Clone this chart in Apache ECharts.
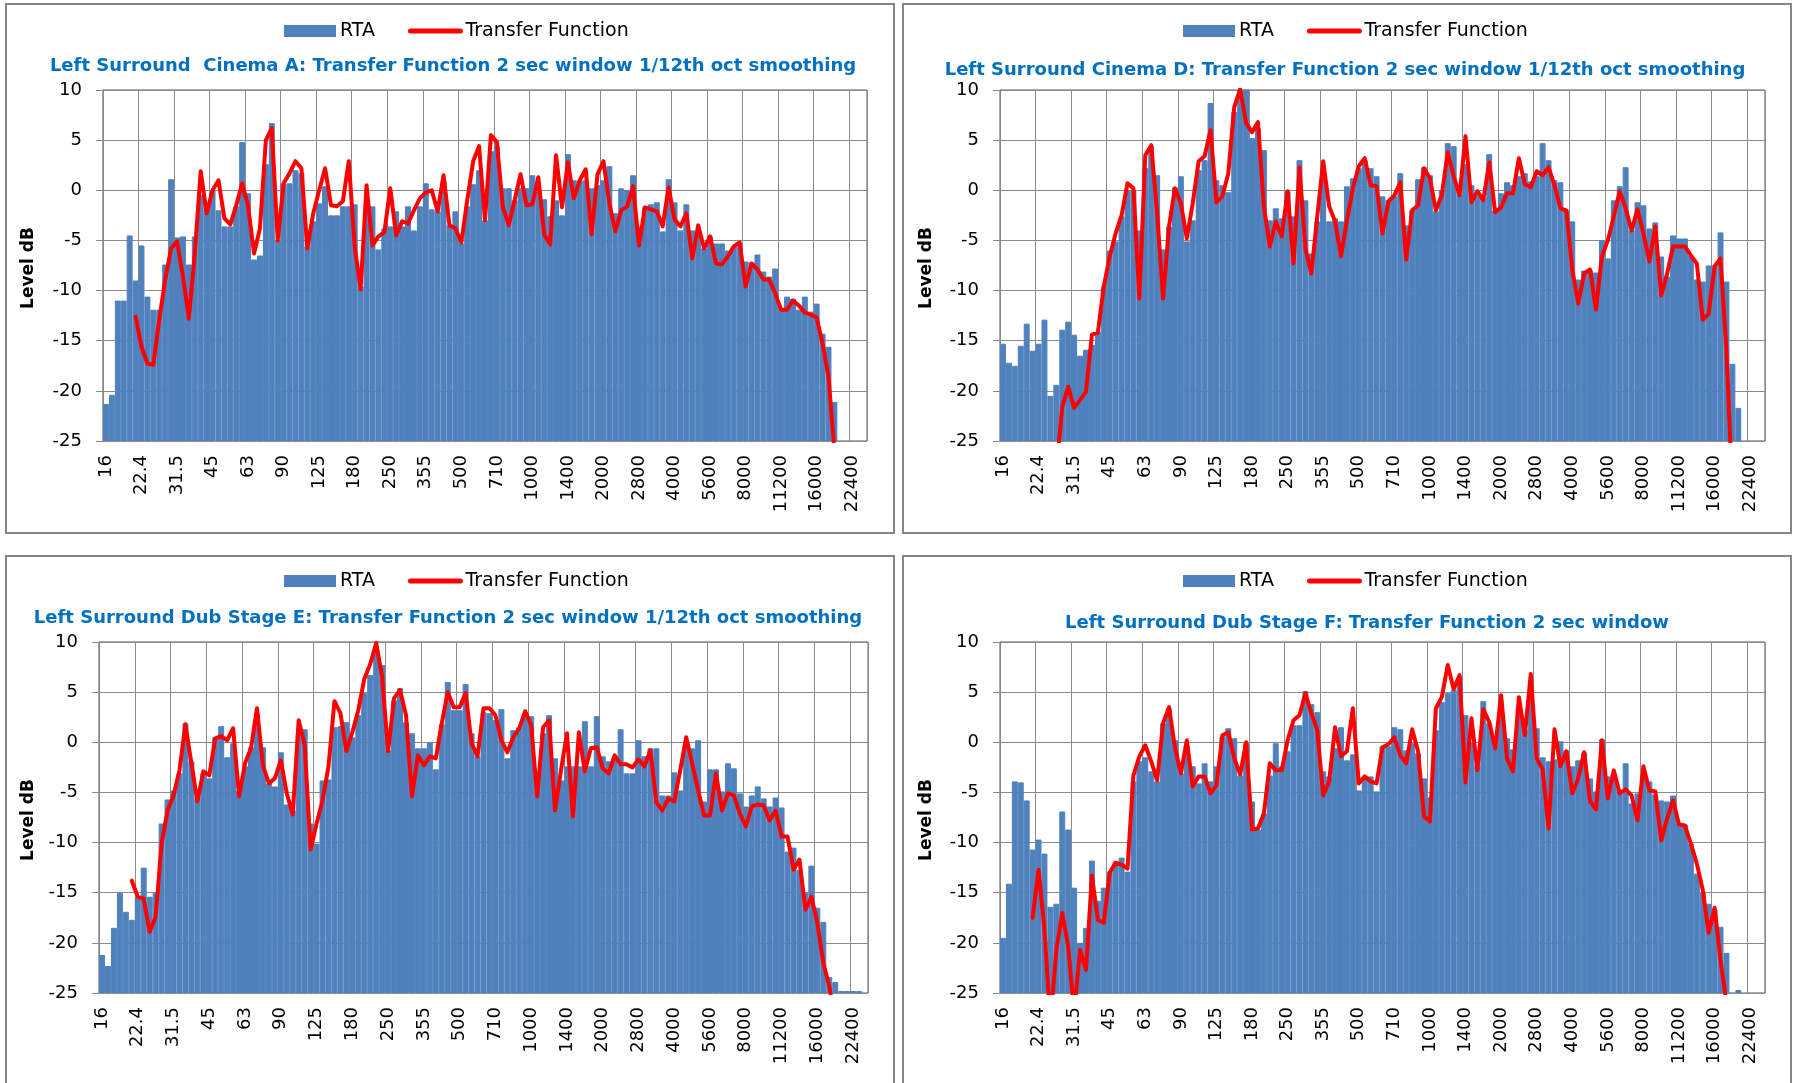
<!DOCTYPE html>
<html>
<head>
<meta charset="utf-8">
<title>Left Surround transfer functions</title>
<script src="https://cdn.jsdelivr.net/npm/echarts@6/dist/echarts.min.js"></script>
<style>
  html, body { margin: 0; padding: 0; background: #fff; }
  #chart { width: 1795px; height: 1083px; }
</style>
</head>
<body>
<div id="chart"></div>
<script>
// half-octave tick labels (every 6th 1/12-octave band)
const tickLabels = ['16', '22.4', '31.5', '45', '63', '90', '125', '180', '250', '355', '500',
  '710', '1000', '1400', '2000', '2800', '4000', '5600', '8000', '11200', '16000', '22400'];
const BAND_COUNT = 129;

// Cinema A
const rtaA = [
  -21.3, -20.4, -11.0, -11.0, -4.5, -9.0, -5.5, -10.6, -11.9, -11.9, -7.4, 1.1,
  -4.7, -4.6, -7.4, -4.6, -0.5, -2.0, 0.0, -2.0, -3.6, -3.6, -1.6, 4.8,
  -0.3, -6.9, -6.5, 2.6, 6.7, -5.0, 0.7, 0.7, 2.0, 1.7, -5.6, -3.1,
  -1.3, 0.4, -2.5, -2.5, -1.6, -1.6, -1.4, -9.6, -1.6, -1.6, -5.9, -3.8,
  -3.6, -2.1, -3.6, -1.6, -4.0, -1.6, 0.7, -1.9, -2.1, 1.0, -3.5, -2.1,
  -5.3, -1.6, 0.6, 2.0, -3.0, 3.9, 4.4, 0.2, 0.2, -1.0, 0.2, 0.2,
  1.5, 0.4, -0.9, -2.6, -1.0, -2.5, 3.6, 1.0, 1.0, 1.0, 0.2, 0.5,
  1.0, 2.4, -2.3, 0.2, 0.0, 1.5, -3.6, -1.7, -1.4, -1.2, -4.1, 1.1,
  -1.2, -4.0, -1.4, -4.0, -4.0, -5.8, -4.6, -5.3, -5.3, -6.0, -5.6, -5.3,
  -7.1, -7.2, -6.4, -8.1, -8.6, -7.8, -11.8, -10.6, -10.8, -11.9, -10.6, -12.1,
  -11.3, -14.3, -15.6, -21.1, null, null, null, null, null
];
const tfA = [
  null, null, null, null, null, -12.6, -15.6, -17.3, -17.4, -12.9, -8.9, -5.8,
  -5.1, -8.6, -12.8, -6.3, 1.9, -2.3, 0.0, 1.0, -2.8, -3.4, -1.5, 0.7,
  -1.6, -6.3, -3.8, 5.0, 6.2, -5.0, 0.7, 1.7, 2.9, 2.2, -5.8, -2.3,
  0.0, 2.2, -1.5, -1.6, -1.1, 2.9, -5.6, -9.9, 0.5, -5.5, -4.6, -4.2,
  0.2, -4.5, -3.1, -3.3, -2.0, -0.8, -0.2, 0.0, -2.1, 1.5, -3.5, -3.8,
  -5.2, -1.0, 2.9, 4.4, -3.0, 5.5, 4.8, -1.6, -3.5, -1.0, 1.6, -1.5,
  -1.4, 1.3, -4.4, -5.4, 3.5, -1.7, 2.8, -0.8, 1.0, 2.1, -4.4, 1.6,
  2.9, -1.3, -4.1, -2.0, -1.6, 0.4, -5.5, -1.7, -1.9, -2.1, -3.6, 0.3,
  -2.9, -3.6, -2.3, -6.8, -3.5, -5.8, -4.6, -7.3, -7.4, -6.6, -5.6, -5.2,
  -9.6, -7.3, -7.9, -8.9, -8.9, -10.3, -11.9, -11.9, -11.0, -11.5, -12.2, -12.4,
  -12.7, -15.3, -18.6, -26, null, null, null, null, null
];

// Cinema D
const rtaD = [
  -15.3, -17.2, -17.5, -15.5, -13.3, -16.0, -15.3, -12.9, -20.5, -19.4, -13.9, -13.1,
  -14.4, -16.5, -15.9, -15.4, -14.1, -9.6, -6.0, -5.1, -2.6, 0.0, 0.0, -4.0,
  2.2, 4.4, 1.5, -5.9, -3.6, 0.3, 1.4, -5.1, -3.0, 2.0, 3.0, 8.7,
  1.0, 0.5, -0.2, 7.8, 10.5, 10.5, 5.2, 6.2, 4.0, -3.0, -1.8, -2.8,
  -0.1, -2.6, 3.0, -1.0, -6.3, -3.1, 1.2, -3.1, -2.8, -3.1, 0.4, 1.2,
  2.2, 3.0, 2.2, 1.4, -0.6, -1.0, -0.6, 1.7, -3.5, -2.0, 1.1, 2.3,
  1.5, -2.1, 0.0, 4.7, 4.4, -0.4, 2.6, 0.5, -0.6, -0.8, 3.6, -2.0,
  -0.3, 0.8, 0.5, 1.4, 1.7, 0.9, 1.4, 4.7, 3.0, 1.0, 0.8, -2.0,
  -3.1, -8.9, -8.0, -8.0, -8.2, -5.0, -6.8, -1.0, 0.4, 2.3, -4.0, -1.2,
  -1.5, -3.8, -3.2, -6.6, -8.6, -4.5, -4.8, -4.8, -6.5, -8.9, -9.1, -7.5,
  -7.5, -4.2, -9.1, -17.3, -21.7, null, null, null, null
];
const tfD = [
  null, null, null, null, null, null, null, null, null, -28, -21.6, -19.6,
  -21.7, -20.9, -20.1, -14.4, -14.2, -9.6, -6.6, -4.3, -2.5, 0.7, 0.2, -10.8,
  3.5, 4.5, -2.3, -10.8, -3.6, 0.2, -1.3, -4.8, -1.3, 2.9, 3.4, 6.0,
  -1.2, -0.6, 1.7, 8.3, 10.1, 6.7, 5.8, 6.8, -1.6, -5.6, -3.1, -4.6,
  -0.1, -7.3, 2.3, -5.8, -8.3, -2.6, 2.9, -1.6, -3.1, -6.6, -3.0, 0.2,
  2.4, 3.2, 0.5, 0.4, -4.3, -1.1, -0.5, 0.8, -6.9, -2.0, -1.5, 2.2,
  1.2, -2.0, -0.5, 3.8, 1.4, -0.5, 5.4, -1.2, -0.1, -1.0, 2.8, -2.2,
  -1.7, -0.3, -0.3, 3.2, 0.6, 0.3, 1.9, 1.5, 2.3, 0.5, -1.8, -2.0,
  -7.9, -11.3, -8.3, -7.9, -11.9, -6.6, -5.0, -2.6, -0.1, -1.8, -4.0, -1.9,
  -4.3, -7.1, -3.6, -10.5, -8.3, -5.6, -5.6, -5.6, -6.5, -7.3, -12.9, -12.3,
  -7.6, -6.8, -16, -30, null, null, null, null, null
];

// Dub Stage E
const rtaE = [
  -21.2, -22.3, -18.5, -15.0, -16.9, -17.7, -15.5, -12.5, -15.4, -15.0, -8.1, -5.7,
  -4.8, -3.1, 1.9, -1.9, -5.6, -3.1, -3.6, 0.5, 1.6, -1.5, -0.1, -4.8,
  -2.4, -0.5, 2.9, -0.5, -4.1, -4.4, -1.0, -6.2, -6.8, 0.9, 1.3, -8.1,
  -10.1, -3.8, -3.7, 1.5, 1.6, 2.0, 0.5, 2.7, 4.9, 6.7, 9.2, 7.7,
  -0.8, 4.2, 5.4, 2.0, 0.9, -0.6, -0.6, 0.0, -2.7, 1.8, 6.0, 3.2,
  3.2, 5.8, 0.9, -1.4, 3.0, 2.9, 2.2, 3.3, -1.6, 1.2, 1.5, 2.6,
  2.6, -2.9, 0.9, 2.7, -1.6, -3.8, -2.4, -2.4, -2.4, 2.1, -2.4, 2.6,
  -1.4, -1.9, -1.4, 1.3, -3.1, -3.1, 0.2, -1.4, -0.6, -0.6, -5.3, -5.3,
  -3.0, -4.8, -0.5, -0.6, 0.2, -5.9, -2.7, -2.7, -4.9, -2.1, -2.6, -5.1,
  -6.4, -5.3, -4.4, -5.6, -6.4, -5.5, -6.5, -10.9, -10.5, -12.7, -15.0, -12.3,
  -16.5, -17.9, -23.4, -23.9, -24.8, -24.8, -24.8, -24.8, null
];
const tfE = [
  null, null, null, null, null, -13.8, -15.4, -15.6, -18.9, -17.4, -10.1, -6.8,
  -5.3, -2.8, 1.8, -2.1, -5.9, -2.9, -3.3, 0.4, 0.6, 0.2, 1.4, -5.4,
  -2.1, -0.6, 3.4, -2.3, -4.1, -3.6, -1.8, -5.1, -7.2, 2.2, -0.3, -10.7,
  -8.1, -5.8, -2.4, 4.1, 2.9, -0.9, 1.0, 3.2, 6.3, 7.8, 9.9, 6.5,
  -0.9, 4.4, 5.2, 2.7, -5.4, -1.3, -2.3, -1.4, -1.6, 1.9, 5.0, 3.5,
  3.5, 4.9, -0.1, -1.4, 3.4, 3.4, 2.7, 0.2, -1.0, 0.5, 1.4, 3.1,
  1.7, -5.4, 1.5, 2.2, -6.8, -2.8, 0.9, -7.4, 1.0, -2.9, -0.6, -0.5,
  -2.6, -3.1, -1.3, -2.2, -2.2, -2.5, -1.7, -2.4, -0.8, -6.0, -6.8, -5.6,
  -5.9, -2.8, 0.5, -2.1, -4.8, -7.3, -7.3, -3.1, -6.8, -5.1, -5.3, -7.1,
  -8.4, -6.4, -6.2, -6.3, -7.8, -6.8, -9.4, -9.4, -12.7, -11.7, -16.7, -15.4,
  -18.0, -22.0, -24.3, -28, null, null, null, null, null
];

// Dub Stage F
const rtaF = [
  -19.5, -14.1, -3.9, -4.0, -5.8, -10.7, -9.7, -11.1, -16.4, -16.1, -6.9, -8.7,
  -14.5, -20.0, -18.5, -11.8, -15.8, -14.5, -12.9, -11.9, -11.5, -12.9, -3.9, -1.9,
  -1.5, -2.9, -3.9, 1.9, 3.4, 0.2, -3.1, -0.3, -2.4, -4.1, -2.1, -3.9,
  -2.4, 0.6, 1.4, 0.4, -3.3, -0.1, -5.9, -8.7, -7.1, -3.3, -0.1, -2.4,
  -0.9, 1.7, 1.7, 5.1, 3.8, 3.0, -2.9, -3.4, -0.6, 1.5, -1.8, -1.2,
  -4.8, -3.4, -3.4, -4.9, -0.4, -0.4, 1.5, 1.3, -0.8, -0.1, -1.1, -3.6,
  -5.5, 1.2, 4.0, 4.9, 5.2, 6.5, 2.7, 0.0, -2.3, 4.1, 1.9, 0.5,
  3.0, 0.4, -0.7, 2.7, 1.2, 4.5, 1.4, -1.5, -1.9, -1.7, 0.1, -0.8,
  -2.4, -1.8, -1.0, -3.6, -4.9, 0.3, -3.4, -3.1, -4.9, -2.1, -6.1, -5.1,
  -3.5, -3.9, -5.2, -5.8, -5.9, -5.3, -8.1, -8.2, -10.1, -13.1, -15.0, -16.1,
  -16.7, -18.4, -21.0, null, -24.7, null, null, null, null
];
const tfF = [
  null, null, null, null, null, -17.5, -12.7, -18.7, -28, -20.7, -17.0, -20.4,
  -27, -20.7, -22.7, -13.3, -17.7, -18.0, -13.0, -12.0, -12.2, -12.6, -3.3, -1.4,
  -0.3, -1.9, -3.8, 1.9, 3.5, -0.5, -3.1, 0.2, -4.4, -3.4, -3.4, -5.1,
  -4.3, 0.7, 1.0, -1.6, -3.2, 0.0, -8.7, -8.6, -7.1, -2.1, -2.8, -2.8,
  0.2, 2.2, 2.7, 4.9, 2.9, 1.2, -5.3, -3.9, 1.5, -1.4, -0.9, 3.4,
  -4.1, -3.4, -3.9, -4.1, -0.5, -0.2, 0.5, -1.3, -2.1, 1.3, -0.9, -7.4,
  -7.9, 3.4, 4.5, 7.7, 5.3, 6.7, -4.0, 2.4, -2.8, 3.3, 2.0, -0.6,
  4.7, -1.6, -2.9, 4.5, 0.7, 6.8, -1.6, -2.7, -8.6, 1.3, -2.4, -0.9,
  -5.1, -3.6, -1.0, -5.9, -6.7, 0.2, -5.6, -2.8, -5.1, -4.7, -5.3, -7.8,
  -2.4, -4.8, -4.9, -9.8, -7.6, -5.8, -8.2, -8.3, -10.1, -12.1, -14.7, -19.0,
  -16.5, -21.7, -26, null, null, null, null, null, null
];

const Y_MIN = -25;
const Y_MAX = 10;
const FONT = "'DejaVu Sans', sans-serif";
const BAR_COLOR = '#4f81bd';

// every 6th band carries a tick label, the rest are unlabelled bands
const categories = [];
for (let i = 0; i < BAND_COUNT; i++) {
  categories.push(i % 6 === 0 ? tickLabels[i / 6] : 'band' + i);
}

// panel layout (page pixels)
const panels = [
  { title: 'Left Surround  Cinema A: Transfer Function 2 sec window 1/12th oct smoothing',
    rta: rtaA, tf: tfA, box: [6, 4, 888, 529], grid: [103, 90, 764, 351],
    legend: [284, 21], titleAt: [453, 66], nameAt: [29, 268] },
  { title: 'Left Surround Cinema D: Transfer Function 2 sec window 1/12th oct smoothing',
    rta: rtaD, tf: tfD, box: [903, 4, 888, 529], grid: [1000, 90, 765, 351],
    legend: [1183, 21], titleAt: [1345, 70], nameAt: [927, 268] },
  { title: 'Left Surround Dub Stage E: Transfer Function 2 sec window 1/12th oct smoothing',
    rta: rtaE, tf: tfE, box: [6, 556, 888, 545], grid: [99, 642, 769, 351],
    legend: [284, 571], titleAt: [448, 618], nameAt: [29, 820] },
  { title: 'Left Surround Dub Stage F: Transfer Function 2 sec window',
    rta: rtaF, tf: tfF, box: [903, 556, 888, 545], grid: [1000, 642, 765, 351],
    legend: [1183, 571], titleAt: [1367, 623], nameAt: [927, 820] }
];

const grids = [], xAxes = [], yAxes = [], series = [], legends = [], graphics = [];

panels.forEach((p, k) => {
  grids.push({
    left: p.grid[0], top: p.grid[1], width: p.grid[2], height: p.grid[3],
    show: true, borderColor: '#555', borderWidth: 1, backgroundColor: '#fff'
  });

  xAxes.push({
    type: 'category', gridIndex: k, data: categories, boundaryGap: true,
    axisLine: { lineStyle: { color: '#868686' } },
    axisTick: { interval: 5, length: 6, lineStyle: { color: '#868686' } },
    axisLabel: { interval: 5, rotate: 90, margin: 14, color: '#000', fontFamily: FONT, fontSize: 18 },
    splitLine: { show: true, interval: 5, lineStyle: { color: '#8c8c8c', width: 1 } }
  });

  // visible dB axis, used by the transfer function line
  yAxes.push({
    type: 'value', gridIndex: k, min: Y_MIN, max: Y_MAX, interval: 5,
    axisLine: { show: true, lineStyle: { color: '#868686' } },
    axisTick: { show: true, length: 7, lineStyle: { color: '#868686' } },
    axisLabel: { margin: 21, color: '#000', fontFamily: FONT, fontSize: 18, showMinLabel: true, showMaxLabel: true },
    splitLine: { lineStyle: { color: '#8c8c8c', width: 1 } }
  });
  // hidden axis measured from the bottom of the dB range, so bars grow up from -25
  yAxes.push({
    type: 'value', gridIndex: k, min: 0, max: Y_MAX - Y_MIN, show: false
  });

  series.push({
    type: 'bar', name: 'RTA', xAxisIndex: k, yAxisIndex: 2 * k + 1,
    data: p.rta.map(v => (v == null ? null : v - Y_MIN)),
    barCategoryGap: '0%', barGap: '0%',
    // thin border in the fill colour closes the anti-aliasing seams between bars
    itemStyle: { color: BAR_COLOR, borderColor: BAR_COLOR, borderWidth: 1 },
    silent: true
  });
  series.push({
    type: 'line', name: 'Transfer Function', xAxisIndex: k, yAxisIndex: 2 * k,
    data: p.tf, symbol: 'none', connectNulls: false, clip: true, z: 5,
    lineStyle: { color: '#ff0000', width: 4, join: 'round', cap: 'round' },
    itemStyle: { color: '#ff0000' }, silent: true
  });

  legends.push({
    left: p.legend[0], top: p.legend[1], padding: 0,
    itemWidth: 50, itemHeight: 10, itemGap: 33,
    textStyle: { fontFamily: FONT, fontSize: 19, color: '#000', lineHeight: 20 },
    data: [
      { name: 'RTA', icon: 'rect' },
      // plain thick line in the legend, no marker in its middle
      { name: 'Transfer Function', itemStyle: { opacity: 0 },
        lineStyle: { color: '#ff0000', width: 5, cap: 'round' } }
    ],
    selectedMode: false
  });

  // panel frame
  graphics.push({
    type: 'rect', z: -10, silent: true,
    shape: { x: p.box[0], y: p.box[1], width: p.box[2], height: p.box[3] },
    style: { fill: '#fff', stroke: '#868686', lineWidth: 2 }
  });
  graphics.push({
    type: 'text', x: p.titleAt[0], y: p.titleAt[1], silent: true,
    style: {
      text: p.title, font: 'bold 18px ' + FONT, fill: '#0070c0',
      textAlign: 'center', textVerticalAlign: 'middle'
    }
  });
  graphics.push({
    type: 'text', x: p.nameAt[0], y: p.nameAt[1], rotation: Math.PI / 2, silent: true,
    style: {
      text: 'Level dB', font: 'bold 17px ' + FONT, fill: '#000',
      textAlign: 'center', textVerticalAlign: 'middle'
    }
  });
});

const chart = echarts.init(document.getElementById('chart'), null, { renderer: 'canvas' });
chart.setOption({
  backgroundColor: '#fff',
  animation: false,
  grid: grids,
  xAxis: xAxes,
  yAxis: yAxes,
  legend: legends,
  graphic: { elements: graphics },
  series: series
});
</script>
</body>
</html>
